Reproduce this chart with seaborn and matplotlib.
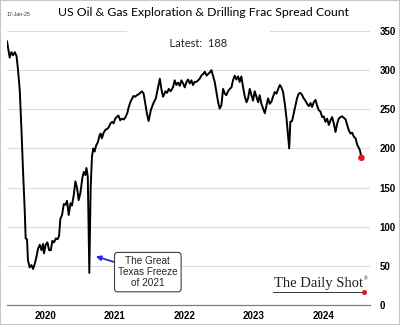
import matplotlib
matplotlib.use("Agg")
import matplotlib.pyplot as plt
import seaborn as sns
import pandas as pd
from matplotlib.lines import Line2D
from matplotlib.patches import Rectangle

# ---- data ----
dates = [
    "2019-12-15", "2019-12-29", "2020-01-07", "2020-01-16", "2020-01-25", "2020-02-03",
    "2020-02-11", "2020-02-20", "2020-02-29", "2020-03-08", "2020-03-17", "2020-03-22",
    "2020-03-29", "2020-04-03", "2020-04-12", "2020-04-21", "2020-04-30", "2020-05-09",
    "2020-05-17", "2020-05-26", "2020-06-04", "2020-06-13", "2020-06-21", "2020-06-26",
    "2020-07-05", "2020-07-14", "2020-07-23", "2020-08-01", "2020-08-09", "2020-08-18",
    "2020-08-27", "2020-09-05", "2020-09-13", "2020-09-20", "2020-09-29", "2020-10-08",
    "2020-10-17", "2020-10-25", "2020-11-03", "2020-11-12", "2020-11-20", "2020-11-29",
    "2020-12-08", "2020-12-17", "2020-12-25", "2021-01-03", "2021-01-14", "2021-01-21",
    "2021-01-29", "2021-02-04", "2021-02-11", "2021-02-19", "2021-02-26", "2021-03-05",
    "2021-03-12", "2021-03-19", "2021-03-27", "2021-04-05", "2021-04-14", "2021-04-19",
    "2021-04-26", "2021-05-05", "2021-05-15", "2021-05-24", "2021-06-01", "2021-06-10",
    "2021-06-19", "2021-06-26", "2021-07-05", "2021-07-16", "2021-07-22", "2021-07-31",
    "2021-08-09", "2021-08-19", "2021-08-28", "2021-09-06", "2021-09-13", "2021-09-22",
    "2021-09-30", "2021-10-09", "2021-10-18", "2021-10-26", "2021-11-04", "2021-11-13",
    "2021-11-22", "2021-12-01", "2021-12-10", "2021-12-18", "2021-12-27", "2022-01-08",
    "2022-01-20", "2022-02-03", "2022-02-15", "2022-02-24", "2022-03-04", "2022-03-13",
    "2022-03-26", "2022-04-03", "2022-04-12", "2022-04-22", "2022-05-04", "2022-05-13",
    "2022-05-22", "2022-05-31", "2022-06-09", "2022-06-17", "2022-06-26", "2022-07-05",
    "2022-07-14", "2022-07-22", "2022-07-31", "2022-08-09", "2022-08-17", "2022-08-26",
    "2022-09-04", "2022-09-13", "2022-09-21", "2022-09-30", "2022-10-09", "2022-10-18",
    "2022-10-27", "2022-11-04", "2022-11-13", "2022-11-22", "2022-11-30", "2022-12-09",
    "2022-12-18", "2022-12-27", "2023-01-04", "2023-01-13", "2023-01-22", "2023-01-31",
    "2023-02-08", "2023-02-17", "2023-02-26", "2023-03-07", "2023-03-15", "2023-03-24",
    "2023-04-02", "2023-04-11", "2023-04-19", "2023-04-28", "2023-05-07", "2023-05-16",
    "2023-05-25", "2023-06-02", "2023-06-11", "2023-06-20", "2023-06-28", "2023-07-07",
    "2023-07-16", "2023-07-25", "2023-08-02", "2023-08-11", "2023-08-20", "2023-08-29",
    "2023-09-07", "2023-09-15", "2023-09-24", "2023-10-03", "2023-10-11", "2023-10-20",
    "2023-10-29", "2023-11-07", "2023-11-16", "2023-11-24", "2023-12-03", "2023-12-12",
    "2023-12-21", "2024-01-04", "2024-01-10", "2024-01-19", "2024-01-28", "2024-02-06",
    "2024-02-14", "2024-02-23", "2024-03-03", "2024-03-12", "2024-03-20", "2024-03-29",
    "2024-04-07", "2024-04-16", "2024-04-25", "2024-05-03", "2024-05-12", "2024-05-21",
    "2024-05-29", "2024-06-07", "2024-06-16", "2024-06-25", "2024-07-03", "2024-07-12",
    "2024-07-21", "2024-07-30", "2024-08-08", "2024-08-16", "2024-08-25", "2024-09-03",
    "2024-09-12", "2024-09-20", "2024-09-29", "2024-10-08", "2024-10-17", "2024-10-26",
    "2024-11-03", "2024-11-12", "2024-11-21", "2024-11-30", "2024-12-08", "2024-12-17",
    "2024-12-27", "2025-01-03", "2025-01-10", "2025-01-17",
]
values = [
    337, 316, 323, 319, 323, 318,
    300, 274, 223, 172, 121, 85,
    84, 57, 48, 51, 46, 53,
    61, 72, 77, 70, 78, 66,
    77, 80, 70, 70, 82, 80,
    85, 84, 88, 110, 115, 129,
    128, 133, 115, 130, 127, 140,
    158, 149, 134, 143, 163, 170,
    166, 175, 164, 41, 150, 190,
    200, 196, 204, 208, 217, 219,
    213, 220, 224, 225, 227, 232,
    234, 232, 238, 241, 242, 236,
    238, 237, 240, 245, 252, 259,
    263, 267, 266, 268, 269, 271,
    273, 270, 257, 245, 235, 249,
    257, 264, 278, 289, 276, 266,
    273, 271, 276, 273, 278, 287,
    281, 284, 280, 287, 283, 278,
    285, 288, 283, 287, 281, 285,
    285, 287, 289, 293, 295, 298,
    293, 295, 297, 300, 293, 285,
    272, 259, 251, 255, 276, 270,
    268, 273, 276, 278, 287, 293,
    288, 292, 285, 292, 278, 266,
    259, 264, 276, 268, 261, 273,
    266, 259, 268, 257, 251, 245,
    255, 264, 257, 260, 266, 272,
    270, 276, 281, 278, 272, 257,
    238, 200, 234, 235, 245, 255,
    264, 270, 271, 268, 264, 261,
    257, 254, 258, 253, 259, 262,
    255, 249, 247, 240, 241, 234,
    238, 230, 236, 240, 232, 221,
    232, 238, 240, 241, 239, 237,
    230, 223, 219, 220, 215, 213,
    204, 201, 197, 188,
]
year_labels = ["2020", "2021", "2022", "2023", "2024"]
y_ticks = [0, 50, 100, 150, 200, 250, 300, 350]
title = "US Oil & Gas Exploration & Drilling Frac Spread Count"
latest_label = "Latest:  188"
date_stamp = "17-Jan-25"
annotation_text = "The Great\nTexas Freeze\nof 2021"

df = pd.DataFrame({"date": pd.to_datetime(dates), "value": values})
last = df.iloc[[-1]]

# ---- figure ----
sns.set_theme(style="white")
plt.rcParams["font.family"] = ["Liberation Sans", "DejaVu Sans"]

fig = plt.figure(figsize=(4.0, 3.25), dpi=100)
ax = fig.add_axes([7 / 400, 20 / 325, 363 / 400, 274 / 325])

sns.lineplot(data=df, x="date", y="value", ax=ax, color="black",
             linewidth=1.4, zorder=3)
sns.scatterplot(data=last, x="date", y="value", ax=ax, color="#e8141c",
                s=22, edgecolor="none", zorder=4)

# axes limits
x0 = pd.Timestamp("2019-12-15")
x1 = pd.Timestamp("2025-03-03")
ax.set_xlim(x0, x1)
ax.set_ylim(0, 350)

# y axis on right
ax.yaxis.tick_right()
ax.set_yticks(y_ticks)
ax.set_yticklabels([str(v) for v in y_ticks], fontsize=7, fontweight="bold")
ax.tick_params(axis="y", length=0, pad=7, colors="black")
ax.grid(axis="y", color="#dcdcdc", linewidth=0.8, zorder=0)
ax.grid(axis="x", visible=False)
ax.set_xlabel("")
ax.set_ylabel("")

# x axis: separators at year boundaries, labels mid-year
major = [pd.Timestamp(f"{y}-01-01") for y in range(2021, 2026)]
minor = [pd.Timestamp(f"{y}-07-02") for y in year_labels]
ax.set_xticks(major)
ax.set_xticklabels([""] * len(major))
ax.set_xticks(minor, minor=True)
ax.set_xticklabels(year_labels, minor=True, fontsize=7, fontweight="bold")
ax.tick_params(axis="x", which="major", length=13, width=0.8,
               color="#7f7f7f", direction="out")
ax.tick_params(axis="x", which="minor", length=0, pad=4, colors="black")

for s in ["top", "left", "right"]:
    ax.spines[s].set_visible(False)
ax.spines["bottom"].set_color("#7f7f7f")
ax.spines["bottom"].set_linewidth(0.9)

# title and texts
fig.text(203 / 400, 1 - 13 / 325, title, ha="center", va="center",
         fontsize=8.8, family=["Lato", "DejaVu Sans"], color="black")
fig.text(7 / 400, 1 - 15 / 325, date_stamp, ha="left", va="center",
         fontsize=3.8, color="#333333")
ax.text(0.527, 0.955, "            " + latest_label + "            ",
        transform=ax.transAxes, ha="center", va="center", fontsize=8,
        family=["Lato", "DejaVu Sans"],
        bbox=dict(boxstyle="square,pad=0.75", facecolor="white",
                  edgecolor="none"), zorder=2)

# annotation
ax.annotate(annotation_text,
            xy=(pd.Timestamp("2021-03-25"), 62), xycoords="data",
            xytext=(pd.Timestamp("2021-12-23"), 42), textcoords="data",
            ha="center", va="center", fontsize=7.2, linespacing=1.15,
            bbox=dict(boxstyle="round,pad=0.35,rounding_size=0.3",
                      facecolor="white", edgecolor="#404040", linewidth=0.8),
            arrowprops=dict(arrowstyle="-|>", color="#1f2ee0", lw=1.3,
                            mutation_scale=7, shrinkA=0, shrinkB=0),
            zorder=5)

# logo
fig.text(318 / 400, 1 - 284 / 325, "The Daily Shot", ha="center",
         va="center", fontsize=10.5, family=["Liberation Serif", "DejaVu Serif"],
         color="#222222")
fig.text(364 / 400, 1 - 279 / 325, "®", ha="left", va="center",
         fontsize=3.5, color="#222222")
fig.add_artist(Line2D([273 / 400, 362 / 400], [1 - 291.5 / 325, 1 - 291.5 / 325],
                      transform=fig.transFigure, color="#333333", lw=0.7))
fig.add_artist(Line2D([364 / 400], [1 - 292 / 325], transform=fig.transFigure,
                      marker="o", markersize=2.6, color="#e8141c", lw=0))

# figure border
fig.add_artist(Rectangle((0, 0), 1, 1, transform=fig.transFigure, fill=False,
                         edgecolor="#c8c8c8", linewidth=1.5))

fig.savefig("out.png", dpi=100)
